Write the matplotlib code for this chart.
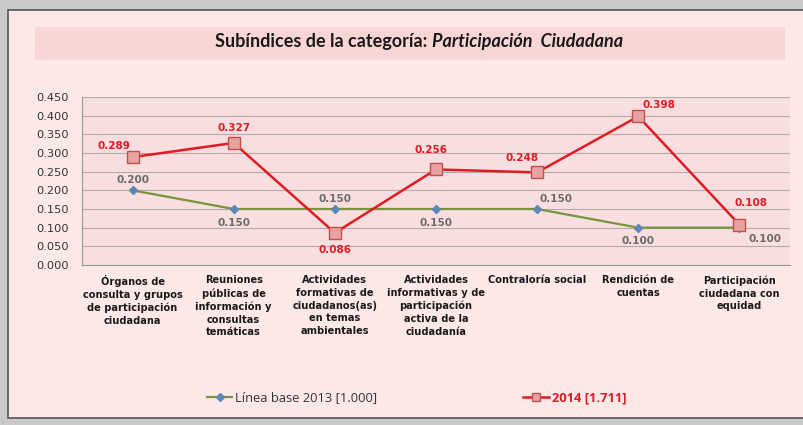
import matplotlib.pyplot as plt
from matplotlib.patches import Rectangle
import numpy as np

# datos
categorias = ['Órganos de\nconsulta y grupos\nde participación\nciudadana',
              'Reuniones\npúblicas de\ninformación y\nconsultas\ntemáticas',
              'Actividades\nformativas de\nciudadanos(as)\nen temas\nambientales',
              'Actividades\ninformativas y de\nparticipación\nactiva de la\nciudadanía',
              'Contraloría social',
              'Rendición de\ncuentas',
              'Participación\nciudadana con\nequidad']
base_2013 = [0.200, 0.150, 0.150, 0.150, 0.150, 0.100, 0.100]
valores_2014 = [0.289, 0.327, 0.086, 0.256, 0.248, 0.398, 0.108]
y_ticks = np.arange(0, 0.451, 0.05)

# desplazamientos de etiquetas (px)
off_2013 = [(0, 10), (0, -13), (0, 10), (0, -13), (18, 10), (0, -13), (25, -11)]
off_2014 = [(-18, 11), (0, 14), (0, -16), (-5, 19), (-14, 14), (20, 11), (11, 21)]

fig = plt.figure(figsize=(8.04, 4.25), dpi=100)
fig.patch.set_facecolor('#c9c9c9')

# panel exterior
panel = Rectangle((8 / 804, 7 / 425), 1.0, 408 / 425, transform=fig.transFigure,
                  facecolor='#fde8e8', edgecolor='#555555', lw=1.2, zorder=-2)
fig.patches.append(panel)
banda = Rectangle((35 / 804, 1 - 60 / 425), 750 / 804, 33 / 425, transform=fig.transFigure,
                  facecolor='#f8d6d6', edgecolor='none', zorder=-1)
fig.patches.append(banda)

fig.text(0.537, 1 - 41 / 425, 'Subíndices de la categoría: ', ha='right', va='center',
         fontsize=13, fontweight='bold', family='Lato', color='#1a1a1a')
fig.text(0.537, 1 - 41 / 425, 'Participación  Ciudadana', ha='left', va='center',
         fontsize=13, fontweight='bold', style='italic', family='Lato', color='#1a1a1a')

ax = fig.add_axes([82 / 804, 1 - 265 / 425, 708 / 804, 168 / 425])
ax.set_facecolor('#f8dede')
x = np.arange(len(categorias))

ax.plot(x, base_2013, color='#77933c', lw=1.6, marker='D', ms=4.5,
        mfc='#5b87b8', mec='#5b87b8', label='Línea base 2013 [1.000]', zorder=3)
ax.plot(x, valores_2014, color='#e01b24', lw=1.8, marker='s', ms=8,
        mfc='#e8a2a2', mec='#c0504d', mew=1, label='2014 [1.711]', zorder=4)

for xi, v, (dx, dy) in zip(x, base_2013, off_2013):
    ax.annotate(f'{v:.3f}', (xi, v), xytext=(dx * 0.75, dy * 0.75), textcoords='offset points',
                ha='center', va='center', fontsize=7.5, fontweight='bold',
                color='#6b6b6b', family='DejaVu Sans')
for xi, v, (dx, dy) in zip(x, valores_2014, off_2014):
    ax.annotate(f'{v:.3f}', (xi, v), xytext=(dx * 0.75, dy * 0.75), textcoords='offset points',
                ha='center', va='center', fontsize=7.5, fontweight='bold',
                color='#e01b24', family='DejaVu Sans')

ax.set_xlim(-0.5, len(categorias) - 0.5)
ax.set_ylim(0, 0.45)
ax.set_yticks(y_ticks)
ax.set_yticklabels([f'{t:.3f}' for t in y_ticks], fontsize=8.2, color='#333333',
                   family='DejaVu Sans')
ax.grid(axis='y', color='#b5aaaa', lw=0.8)
ax.set_axisbelow(True)
ax.set_xticks(x)
ax.set_xticklabels(categorias, fontsize=7.1, fontweight='bold', family='DejaVu Sans',
                   color='#1a1a1a', linespacing=1.33, va='top')
ax.tick_params(axis='x', length=0, pad=7.5)
ax.tick_params(axis='y', length=0, pad=9.5)
for lado in ['top', 'right']:
    ax.spines[lado].set_visible(False)
ax.spines['left'].set_color('#9a9a9a')
ax.spines['bottom'].set_color('#9a9a9a')

leg = fig.legend(loc='center left', bbox_to_anchor=(195 / 804, 1 - 398 / 425), ncol=2,
                 frameon=False, handlelength=2.0, handletextpad=0.2, columnspacing=11.3,
                 markerscale=0.8, prop={'family': 'Open Sans', 'size': 9.3})
leg.get_texts()[0].set_color('#333333')
leg.get_texts()[1].set_color('#e01b24')
leg.get_texts()[1].set_fontweight('bold')

fig.savefig('out.png', dpi=100, facecolor=fig.get_facecolor())
